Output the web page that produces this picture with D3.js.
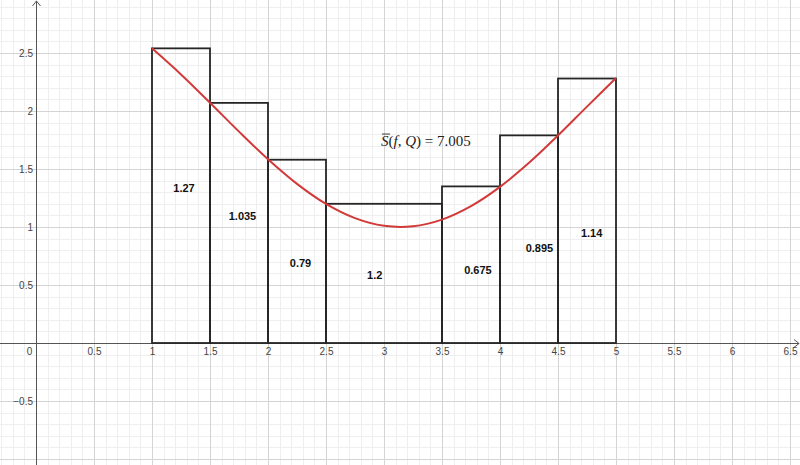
<!DOCTYPE html>
<html><head><meta charset="utf-8">
<script src="https://cdn.jsdelivr.net/npm/d3@7"></script>
<style>body{margin:0;background:#fff}svg{display:block}</style>
</head><body><svg id="c" width="800" height="465"></svg>
<script>
// ---- data ----
const xTicks=[0,0.5,1,1.5,2,2.5,3,3.5,4,4.5,5,5.5,6,6.5];
const xTickLabels=["0","0.5","1","1.5","2","2.5","3","3.5","4","4.5","5","5.5","6","6.5"];
const yTicks=[-0.5,0.5,1,1.5,2,2.5];
const yTickLabels=["\u22120.5","0.5","1","1.5","2","2.5"];
const partition=[1,1.5,2,2.5,3.5,4,4.5,5];
const heights=[2.54,2.07,1.58,1.2,1.35,1.79,2.28];
const areaLabels=["1.27","1.035","0.79","1.2","0.675","0.895","1.14"];
const labelX=[1.276,1.78,2.28,2.92,3.81,4.34,4.79];
const labelY=[1.30,1.06,0.655,0.55,0.595,0.784,0.914];
const curveX=[1,1.25,1.5,1.75,2,2.25,2.5,2.75,3,3.25,3.5,3.75,4,4.25,4.5,4.75,5];
const curveY=[2.54,2.315,2.071,1.822,1.584,1.372,1.199,1.076,1.010,1.006,1.064,1.180,1.346,1.553,1.789,2.038,2.284];
const sumValue="7.005";
const sumPos=[2.974,1.698];

// ---- drawing ----
const W=800,H=465;
const svg=d3.select("#c");
const x=d3.scaleLinear().domain([-0.3103,6.5862]).range([0,W]);
const y=d3.scaleLinear().domain([-1.0517,2.9569]).range([H,0]);

const grid=svg.append("g");
const xs=d3.range(-3,66), ys=d3.range(-10,30);
grid.selectAll(".vmin").data(xs.filter(i=>i%5!==0)).join("line")
  .attr("x1",i=>Math.round(x(i/10))+0.5).attr("x2",i=>Math.round(x(i/10))+0.5)
  .attr("y1",0).attr("y2",H).attr("stroke","#efefef").attr("stroke-width",1);
grid.selectAll(".hmin").data(ys.filter(i=>i%5!==0)).join("line")
  .attr("y1",i=>Math.round(y(i/10))+0.5).attr("y2",i=>Math.round(y(i/10))+0.5)
  .attr("x1",0).attr("x2",W).attr("stroke","#efefef").attr("stroke-width",1);
grid.selectAll(".vmaj").data(xs.filter(i=>i%5===0)).join("line")
  .attr("x1",i=>Math.round(x(i/10))+0.5).attr("x2",i=>Math.round(x(i/10))+0.5)
  .attr("y1",0).attr("y2",H).attr("stroke","#d4d4d4").attr("stroke-width",1);
grid.selectAll(".hmaj").data(ys.filter(i=>i%5===0)).join("line")
  .attr("y1",i=>Math.round(y(i/10))+0.5).attr("y2",i=>Math.round(y(i/10))+0.5)
  .attr("x1",0).attr("x2",W).attr("stroke","#d4d4d4").attr("stroke-width",1);

// axes lines
const x0=Math.round(x(0))+0.5, y0=Math.round(y(0))+0.5;
const ax=svg.append("g").attr("stroke","#555").attr("stroke-width",1).attr("fill","none");
ax.append("line").attr("x1",0).attr("x2",W-1).attr("y1",y0).attr("y2",y0);
ax.append("line").attr("x1",x0).attr("x2",x0).attr("y1",1).attr("y2",H);
ax.append("polyline").attr("points",`${W-6},${y0-4} ${W-1},${y0} ${W-6},${y0+4}`);
ax.append("polyline").attr("points",`${x0-4},${6} ${x0},${1} ${x0+4},${6}`);

// tick labels
const xa=svg.append("g").attr("transform",`translate(0,${y(0)})`)
  .call(d3.axisBottom(x).tickValues(xTicks).tickSize(0).tickPadding(5).tickFormat((d,i)=>xTickLabels[i]));
xa.select(".domain").remove();
xa.selectAll("text").attr("font-family","'Liberation Sans',Arial,sans-serif").attr("font-size",10).attr("fill","#444")
  .attr("dx",d=>d===0?-7:0);
const ya=svg.append("g").attr("transform",`translate(${x(0)},0)`)
  .call(d3.axisLeft(y).tickValues(yTicks).tickSize(0).tickPadding(3).tickFormat((d,i)=>yTickLabels[i]));
ya.select(".domain").remove();
ya.selectAll("text").attr("font-family","'Liberation Sans',Arial,sans-serif").attr("font-size",10).attr("fill","#444");

// rectangles (upper sum)
svg.append("g").selectAll("rect").data(heights).join("rect")
  .attr("x",(d,i)=>x(partition[i])).attr("width",(d,i)=>x(partition[i+1])-x(partition[i]))
  .attr("y",d=>y(d)).attr("height",d=>y(0)-y(d))
  .attr("fill","none").attr("stroke","#262626").attr("stroke-width",1.8);

// curve
const pts=curveX.map((v,i)=>[v,curveY[i]]);
svg.append("path").datum(pts)
  .attr("d",d3.line().x(d=>x(d[0])).y(d=>y(d[1])).curve(d3.curveCatmullRom.alpha(0.5)))
  .attr("fill","none").attr("stroke","#d23a3a").attr("stroke-width",2);

// area labels
svg.append("g").selectAll("text").data(areaLabels).join("text")
  .attr("x",(d,i)=>x(labelX[i])).attr("y",(d,i)=>y(labelY[i]))
  .attr("text-anchor","middle").attr("font-family","'Liberation Sans',Arial,sans-serif")
  .attr("font-weight","bold").attr("font-size",11).attr("fill","#111").text(d=>d);

// formula
const ft=svg.append("text").attr("x",x(sumPos[0])).attr("y",y(sumPos[1]))
  .attr("font-family","'Liberation Serif','Times New Roman',serif").attr("font-size",15).attr("fill","#222");
ft.append("tspan").attr("font-style","italic").text("S");
ft.append("tspan").text("(");
ft.append("tspan").attr("font-style","italic").text("f");
ft.append("tspan").text(", ");
ft.append("tspan").attr("font-style","italic").text("Q");
ft.append("tspan").text(") = "+sumValue);
svg.append("line").attr("x1",x(sumPos[0])+1).attr("x2",x(sumPos[0])+9)
  .attr("y1",y(sumPos[1])-12).attr("y2",y(sumPos[1])-12).attr("stroke","#222").attr("stroke-width",0.9);
</script></body></html>
